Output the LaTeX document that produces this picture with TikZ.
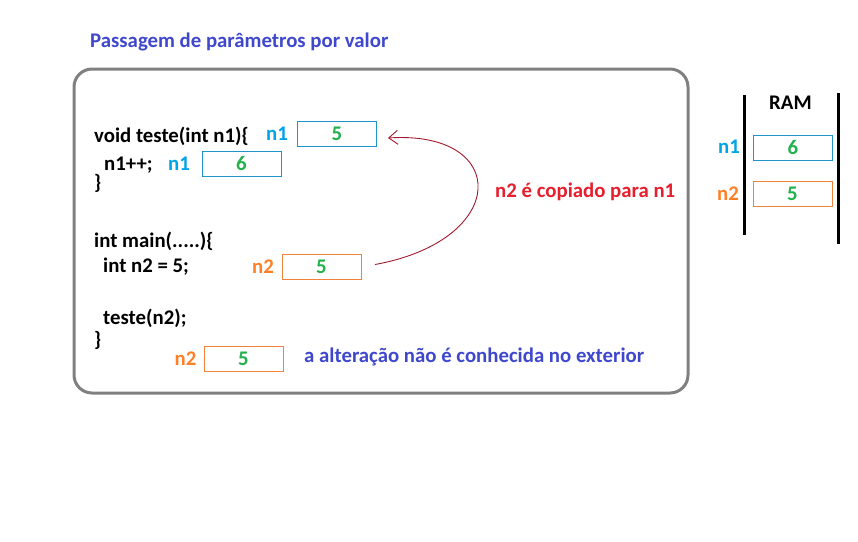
\documentclass[tikz,border=0pt]{standalone}
\usepackage{fontspec}
\setmainfont{Carlito}
\usepackage{tikz}
\usetikzlibrary{arrows.meta}
\definecolor{titleblue}{RGB}{63,72,204}
\definecolor{copyred}{RGB}{230,30,45}
\definecolor{arrowred}{RGB}{160,25,45}
\definecolor{varblue}{RGB}{0,162,232}
\definecolor{boxblue}{RGB}{30,150,200}
\definecolor{varorange}{RGB}{255,127,39}
\definecolor{boxorange}{RGB}{240,130,60}
\definecolor{valgreen}{RGB}{34,177,76}
\newcommand{\diagfont}{\fontsize{20.8}{25}\selectfont\bfseries}
\tikzset{>={Straight Barb[length=9pt,width=14pt]}}
\tikzset{
    code/.style={anchor=base west,inner sep=0pt,font=\diagfont,text=black},
    note/.style={anchor=base west,inner sep=0pt,font=\diagfont},
    cell/.style={rectangle,draw,minimum width=79pt,minimum height=25pt,inner sep=0pt,line width=1pt,font=\diagfont,text=valgreen},
    n1cell/.style={cell,draw=boxblue},
    n2cell/.style={cell,draw=boxorange},
    varname/.style={anchor=base east,inner sep=0pt,font=\diagfont},
    n1name/.style={varname,text=varblue},
    n2name/.style={varname,text=varorange},
    frame/.style={draw=black!50,line width=3pt,rounded corners=18pt},
    ramwall/.style={draw=black,line width=3pt},
    copyarrow/.style={draw=arrowred,line width=0.9pt,->},
}

\begin{document}
\begin{tikzpicture}[x=1pt,y=-1pt]
		\useasboundingbox (0,0) rectangle (858,541);
		\node[note,text=titleblue] (title) at (90,47) {Passagem de parâmetros por valor};
		\draw[frame] (74,69) rectangle (688,393);
	
		% code
		\node[code] (c1) at (94,142) {void teste(int n1)\{};
		\node[code] (c2) at (104,170) {n1++;};
		\node[code] (c3) at (94,189) {\}};
		\node[code] (c4) at (94,247) {int main(.....)\{};
		\node[code] (c5) at (103,272) {int n2 = 5;};
		\node[code] (c6) at (103,324) {teste(n2);};
		\node[code] (c7) at (94,346) {\}};
	
		% variables
		\node[n1cell] (n1teste) at (337,133.5) {5};
		\node[n1name] (l1teste) at (288,140) {n1};
		\node[n1cell] (n1inc) at (241.5,163.5) {6};
		\node[n1name] (l1inc) at (190,170) {n1};
		\node[n2cell] (n2main) at (321.5,267) {5};
		\node[n2name] (l2main) at (274,273.5) {n2};
		\node[n2cell] (n2end) at (243.5,358.5) {5};
		\node[n2name] (l2end) at (196.5,365) {n2};
	
		\node[note,text=titleblue] (outside) at (304,362) {a alteração não é conhecida no exterior};
		\node[note,text=copyred] (copied) at (495,197) {n2 é copiado para n1};
	
		\draw[copyarrow] ([xshift=13.5pt,yshift=2.5pt]n2main.east) .. controls (510,240) and (510,130) .. ([xshift=11pt,yshift=-4.5pt]n1teste.east);
	
		% RAM
		\draw[ramwall] (744,95) -- (744,235);
		\draw[ramwall] (838,93) -- (838,244);
		\node[note,text=black] (ram) at (769,109) {RAM};
		\node[n1cell] (n1ram) at (793,147.5) {6};
		\node[n1name] (l1ram) at (740,153) {n1};
		\node[n2cell] (n2ram) at (792.5,194) {5};
		\node[n2name] (l2ram) at (739,200.5) {n2};
	\end{tikzpicture}
\end{document}
